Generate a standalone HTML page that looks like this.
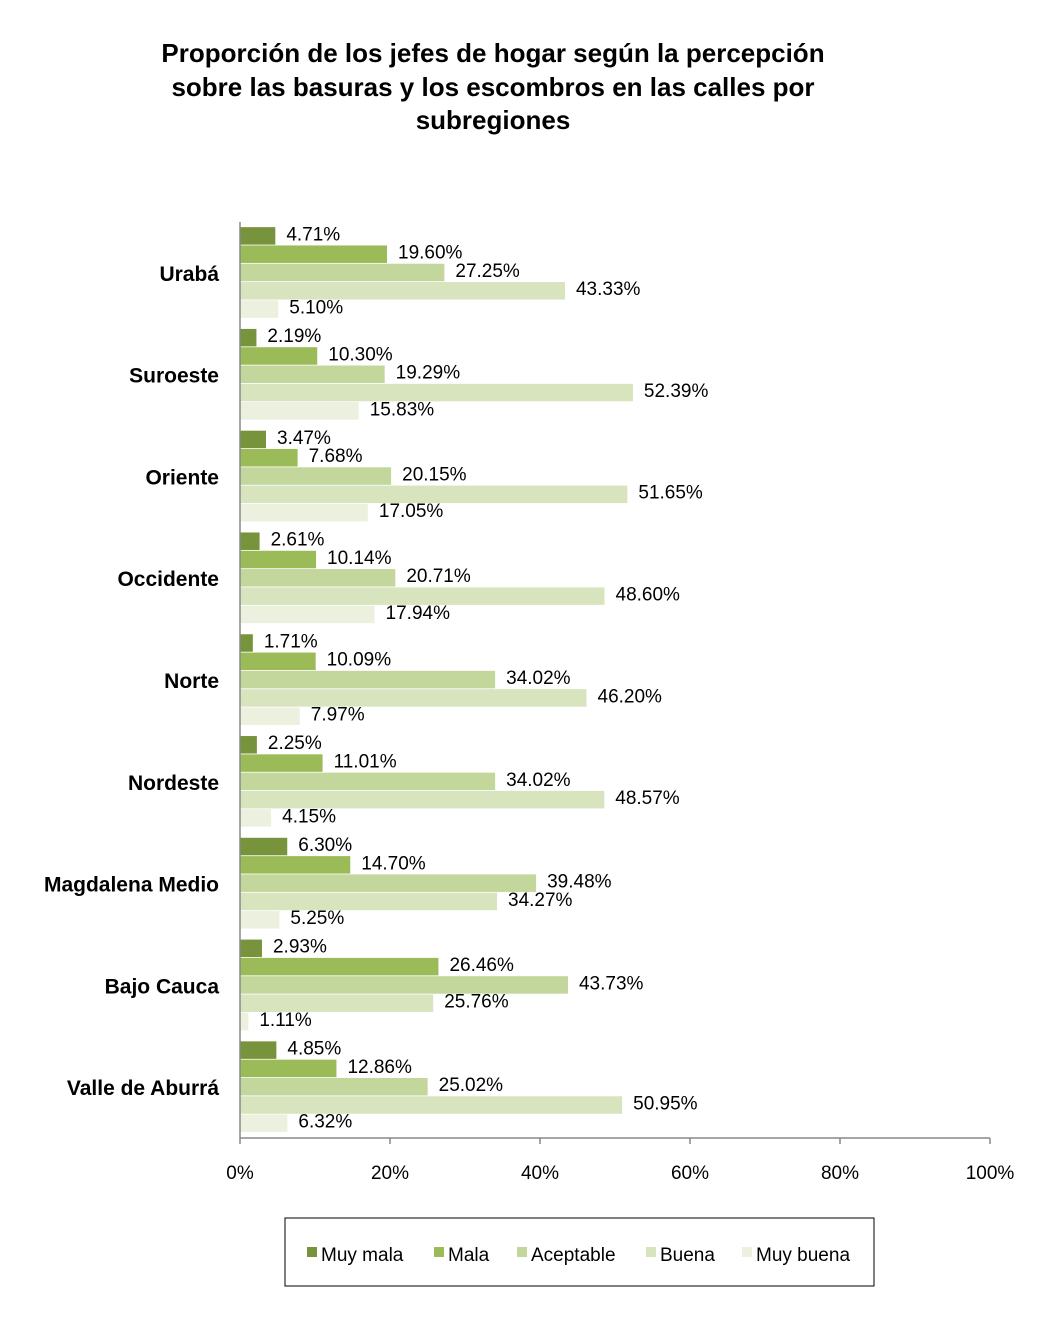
<!DOCTYPE html>
<html><head><meta charset="utf-8"><style>
body{margin:0;background:#fff;font-family:"Liberation Sans",Arial,sans-serif}
svg text{font-family:"Liberation Sans",Arial,sans-serif}
</style></head><body>
<svg id="c" width="1050" height="1334" xmlns="http://www.w3.org/2000/svg">
<g font-size="26" font-weight="bold" text-anchor="middle">
<text x="493" y="62">Proporción de los jefes de  hogar según la percepción</text>
<text x="493" y="96">sobre las basuras y los escombros en las calles  por</text>
<text x="493" y="129">subregiones</text>
</g>
<g id="plot"></g>
<g>
<rect x="285" y="1218" width="589" height="68" fill="#fff" stroke="#000" stroke-width="1"/>
<g id="leg"></g>
</g>
</svg>
<script>
const categories=["Urabá","Suroeste","Oriente","Occidente","Norte","Nordeste","Magdalena Medio","Bajo Cauca","Valle de Aburrá"];
const seriesNames=["Muy mala","Mala","Aceptable","Buena","Muy buena"];
const muyMala=[4.71,2.19,3.47,2.61,1.71,2.25,6.30,2.93,4.85];
const mala=[19.60,10.30,7.68,10.14,10.09,11.01,14.70,26.46,12.86];
const aceptable=[27.25,19.29,20.15,20.71,34.02,34.02,39.48,43.73,25.02];
const buena=[43.33,52.39,51.65,48.60,46.20,48.57,34.27,25.76,50.95];
const muyBuena=[5.10,15.83,17.05,17.94,7.97,4.15,5.25,1.11,6.32];
const xTicks=[0,20,40,60,80,100];
const series=[muyMala,mala,aceptable,buena,muyBuena];
const colors=["#77933C","#9BBB59","#C3D69B","#D7E4BD","#EBF1DE"];
const NS="http://www.w3.org/2000/svg";
const x0=240,x1=990,yTop=222,yBot=1138;
const xs=v=>x0+(v/100)*(x1-x0);
const pitch=(yBot-yTop)/categories.length;
const bh=18.3,pad=(pitch-bh*5)/2;
const plot=document.getElementById('plot');
function mk(t,a,p){const e=document.createElementNS(NS,t);for(const k in a)e.setAttribute(k,a[k]);(p||plot).appendChild(e);return e;}
categories.forEach((c,i)=>{
  const g0=yTop+i*pitch;
  const t=mk('text',{x:219,y:g0+pitch/2+8,'font-size':21,'font-weight':'bold','text-anchor':'end'});
  t.textContent=c;
  
  
  series.forEach((s,j)=>{
    const y=g0+pad+j*bh;
    const r=mk('rect',{x:x0,y:y,width:xs(s[i])-x0,height:bh-0.8,fill:colors[j]});
    
    
    const l=mk('text',{x:xs(s[i])+11,y:y+bh/2+4,'font-size':19});
    l.textContent=s[i].toFixed(2)+'%';
    
    
  });
});
const ax=mk('line',{x1:x0,y1:yTop,x2:x0,y2:yBot,stroke:'#888','stroke-width':1.5});


const bx=mk('line',{x1:x0,y1:yBot,x2:x1,y2:yBot,stroke:'#888','stroke-width':1.5});


xTicks.forEach(v=>{
  mk('line',{x1:xs(v),y1:yBot,x2:xs(v),y2:yBot+6,stroke:'#888','stroke-width':1.5});
  const t=mk('text',{x:xs(v),y:1179,'font-size':19,'text-anchor':'middle'});
  t.textContent=v+'%';
  
  
});
const leg=document.getElementById('leg');
const lx=[307,434,517,646,742];
seriesNames.forEach((n,j)=>{
  const r=mk('rect',{x:lx[j],y:1247,width:10,height:10,fill:colors[j]},leg);
  
  
  const t=mk('text',{x:lx[j]+14,y:1261,'font-size':19},leg);
  t.textContent=n;
  
  
});
</script>
</body></html>
